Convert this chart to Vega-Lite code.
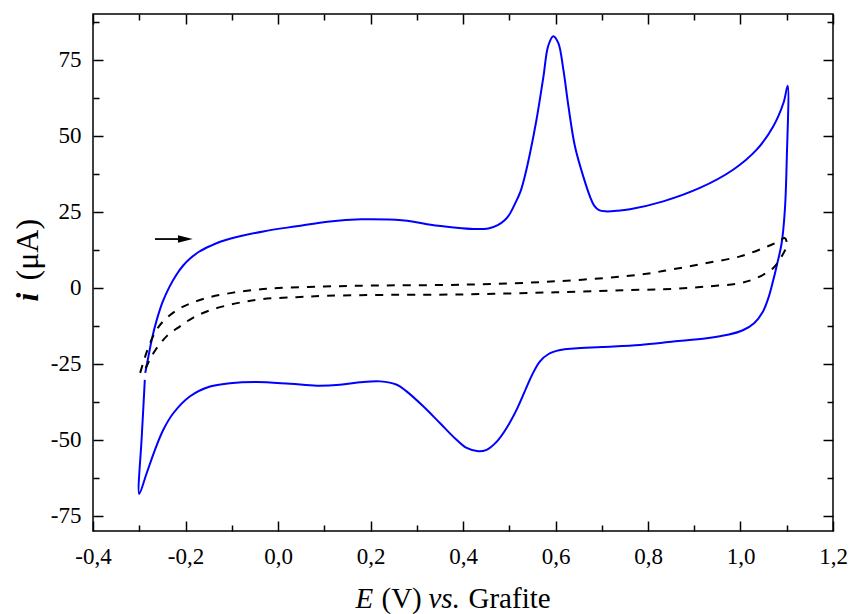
{
  "$schema": "https://vega.github.io/schema/vega-lite/v6.json",
  "width": 740,
  "height": 517,
  "autosize": "none",
  "padding": {"left": 93, "top": 14, "right": 18, "bottom": 83},
  "background": "white",
  "config": {
    "view": {"stroke": "black", "strokeWidth": 1.5},
    "axis": {
      "grid": false, "domain": false, "labelFont": "Liberation Serif", "titleFont": "Liberation Serif",
      "labelColor": "black", "titleColor": "black", "tickColor": "black", "tickWidth": 1.5,
      "labelFlush": false, "labelOverlap": false, "labelBound": false, "titleFontWeight": "normal"
    }
  },
  "datasets": {
    "cv": [
      {"o":1,"E":-0.287,"i":-28.0},{"o":2,"E":-0.280,"i":-22.5},{"o":3,"E":-0.273,"i":-17.1},{"o":4,"E":-0.262,"i":-10.5},
      {"o":5,"E":-0.249,"i":-4.5},{"o":6,"E":-0.235,"i":0.2},{"o":7,"E":-0.220,"i":4.2},{"o":8,"E":-0.205,"i":7.3},
      {"o":9,"E":-0.190,"i":9.6},{"o":10,"E":-0.170,"i":11.9},{"o":11,"E":-0.147,"i":13.7},{"o":12,"E":-0.125,"i":15.1},
      {"o":13,"E":-0.104,"i":16.1},{"o":14,"E":-0.032,"i":18.5},
      {"o":15,"E":0.040,"i":20.2},{"o":16,"E":0.112,"i":21.8},{"o":17,"E":0.180,"i":22.5},{"o":18,"E":0.240,"i":22.4},
      {"o":19,"E":0.290,"i":21.8},{"o":20,"E":0.330,"i":20.7},{"o":21,"E":0.380,"i":19.8},{"o":22,"E":0.422,"i":19.3},
      {"o":23,"E":0.455,"i":19.5},{"o":24,"E":0.475,"i":20.6},{"o":25,"E":0.490,"i":22.2},{"o":26,"E":0.500,"i":24.0},
      {"o":27,"E":0.512,"i":27.5},{"o":28,"E":0.524,"i":31.5},{"o":29,"E":0.535,"i":37.5},{"o":30,"E":0.545,"i":44.3},
      {"o":31,"E":0.559,"i":55.3},{"o":32,"E":0.574,"i":69.5},{"o":33,"E":0.584,"i":79.4},{"o":34,"E":0.595,"i":82.7},
      {"o":35,"E":0.606,"i":80.5},{"o":36,"E":0.617,"i":71.7},{"o":37,"E":0.628,"i":59.6},{"o":38,"E":0.642,"i":46.5},
      {"o":39,"E":0.660,"i":36.6},{"o":40,"E":0.675,"i":29.8},{"o":41,"E":0.684,"i":26.9},{"o":42,"E":0.694,"i":25.5},
      {"o":43,"E":0.708,"i":25.1},{"o":44,"E":0.735,"i":25.3},{"o":45,"E":0.761,"i":25.8},
      {"o":46,"E":0.833,"i":28.4},{"o":47,"E":0.912,"i":32.8},{"o":48,"E":0.984,"i":38.8},{"o":49,"E":1.035,"i":45.4},
      {"o":50,"E":1.071,"i":53.1},{"o":51,"E":1.093,"i":60.8},{"o":52,"E":1.102,"i":66.4},{"o":53,"E":1.100,"i":42.1},
      {"o":54,"E":1.096,"i":25.7},{"o":55,"E":1.089,"i":14.7},{"o":56,"E":1.078,"i":7.0},{"o":57,"E":1.070,"i":2.0},
      {"o":58,"E":1.060,"i":-3.5},{"o":59,"E":1.048,"i":-8.0},{"o":60,"E":1.030,"i":-11.6},{"o":61,"E":1.005,"i":-14.0},
      {"o":62,"E":0.975,"i":-15.4},{"o":63,"E":0.927,"i":-16.6},
      {"o":64,"E":0.855,"i":-17.7},{"o":65,"E":0.783,"i":-18.8},{"o":66,"E":0.700,"i":-19.5},{"o":67,"E":0.640,"i":-20.0},
      {"o":68,"E":0.610,"i":-20.5},{"o":69,"E":0.585,"i":-21.8},{"o":70,"E":0.566,"i":-24.3},{"o":71,"E":0.550,"i":-28.5},
      {"o":72,"E":0.538,"i":-32.5},
      {"o":73,"E":0.516,"i":-40.1},{"o":74,"E":0.494,"i":-46.2},{"o":75,"E":0.473,"i":-50.6},{"o":76,"E":0.451,"i":-53.3},
      {"o":77,"E":0.433,"i":-53.8},{"o":78,"E":0.408,"i":-52.7},{"o":79,"E":0.386,"i":-50.0},{"o":80,"E":0.350,"i":-44.5},
      {"o":81,"E":0.314,"i":-39.0},{"o":82,"E":0.278,"i":-34.1},{"o":83,"E":0.257,"i":-31.9},{"o":84,"E":0.221,"i":-30.8},
      {"o":85,"E":0.177,"i":-31.1},{"o":86,"E":0.134,"i":-31.9},{"o":87,"E":0.084,"i":-32.2},{"o":88,"E":0.026,"i":-31.6},
      {"o":89,"E":-0.046,"i":-31.0},{"o":90,"E":-0.104,"i":-31.4},{"o":91,"E":-0.147,"i":-32.5},{"o":92,"E":-0.190,"i":-35.7},
      {"o":93,"E":-0.226,"i":-41.2},{"o":94,"E":-0.248,"i":-46.7},{"o":95,"E":-0.266,"i":-53.3},{"o":96,"E":-0.284,"i":-61.0},
      {"o":97,"E":-0.300,"i":-67.8},{"o":98,"E":-0.295,"i":-50.0},{"o":99,"E":-0.291,"i":-39.0},{"o":100,"E":-0.288,"i":-30.3}
    ],
    "blank": [
      {"o":1,"E":-0.298,"i":-28.0},{"o":2,"E":-0.290,"i":-24.0},{"o":3,"E":-0.280,"i":-19.5},{"o":4,"E":-0.265,"i":-14.5},
      {"o":5,"E":-0.248,"i":-11.0},{"o":6,"E":-0.220,"i":-7.5},{"o":7,"E":-0.190,"i":-5.2},{"o":8,"E":-0.150,"i":-3.2},
      {"o":9,"E":-0.100,"i":-1.7},{"o":10,"E":-0.050,"i":-0.7},{"o":11,"E":0.000,"i":-0.1},{"o":12,"E":0.100,"i":0.4},
      {"o":13,"E":0.200,"i":0.7},{"o":14,"E":0.400,"i":1.0},{"o":15,"E":0.600,"i":2.1},{"o":16,"E":0.783,"i":4.3},
      {"o":17,"E":0.855,"i":6.1},{"o":18,"E":0.927,"i":8.1},{"o":19,"E":0.999,"i":10.3},{"o":20,"E":1.049,"i":13.0},
      {"o":21,"E":1.078,"i":14.9},{"o":22,"E":1.096,"i":16.3},{"o":23,"E":1.100,"i":14.1},{"o":24,"E":1.089,"i":10.3},
      {"o":25,"E":1.071,"i":6.5},{"o":26,"E":1.035,"i":3.2},{"o":27,"E":0.999,"i":1.5},{"o":28,"E":0.927,"i":0.4},
      {"o":29,"E":0.855,"i":-0.4},{"o":30,"E":0.783,"i":-0.7},{"o":31,"E":0.600,"i":-1.5},{"o":32,"E":0.400,"i":-2.2},
      {"o":33,"E":0.200,"i":-2.4},{"o":34,"E":0.100,"i":-2.7},{"o":35,"E":0.040,"i":-3.1},{"o":36,"E":-0.032,"i":-3.7},
      {"o":37,"E":-0.068,"i":-4.5},{"o":38,"E":-0.104,"i":-5.6},{"o":39,"E":-0.147,"i":-7.4},{"o":40,"E":-0.183,"i":-9.8},
      {"o":41,"E":-0.212,"i":-12.7},{"o":42,"E":-0.241,"i":-16.0},{"o":43,"E":-0.265,"i":-20.5},{"o":44,"E":-0.280,"i":-24.5},
      {"o":45,"E":-0.292,"i":-28.5}
    ],
    "arrow": [{"x0": -0.266, "x1": -0.212, "xh": -0.2004, "y": 16.0}]
  },
  "resolve": {"axis": {"x": "independent", "y": "independent"}},
  "layer": [
    {
      "data": {"name": "cv"},
      "mark": {"type": "line", "color": "#0000ff", "strokeWidth": 2, "interpolate": "catmull-rom"},
      "encoding": {
        "order": {"field": "o", "type": "quantitative"},
        "x": {"field": "E", "type": "quantitative",
          "scale": {"domain": [-0.4, 1.2], "nice": false, "zero": false},
          "axis": {"orient": "bottom", "values": [-0.4,-0.2,0,0.2,0.4,0.6,0.8,1.0,1.2], "ticks": false, "tickSize": 0,
            "labelExpr": "(datum.value < -0.001 ? '-' : '') + replace(format(abs(datum.value), '.1f'), '.', ',')",
            "labelFontSize": 23, "labelBaseline": "alphabetic", "labelPadding": 32,
            "title": "E", "titleFontSize": 29, "titleFontStyle": "italic", "titleX": 262, "titleY": 76,
            "titleAlign": "left", "titleBaseline": "alphabetic", "titleAngle": 0}},
        "y": {"field": "i", "type": "quantitative",
          "scale": {"domain": [-80, 90], "nice": false, "zero": false},
          "axis": {"orient": "left", "values": [-75,-50,-25,0,25,50,75], "ticks": false, "tickSize": 0,
            "labelExpr": "(datum.value < 0 ? '-' : '') + format(abs(datum.value), 'd')",
            "labelFontSize": 23, "labelBaseline": "middle", "labelAlign": "right", "labelPadding": 12,
            "title": "i", "titleFontSize": 32, "titleFontStyle": "italic", "titleFontWeight": "bold",
            "titleX": -56, "titleY": 287, "titleAlign": "left", "titleBaseline": "alphabetic", "titleAngle": 270}}
      }
    },
    {
      "data": {"name": "blank"},
      "mark": {"type": "line", "color": "black", "strokeWidth": 2, "strokeDash": [8, 8], "interpolate": "catmull-rom"},
      "encoding": {
        "order": {"field": "o", "type": "quantitative"},
        "x": {"field": "E", "type": "quantitative",
          "scale": {"domain": [-0.4, 1.2], "nice": false, "zero": false},
          "axis": {"orient": "bottom", "values": [-0.4,-0.2,0,0.2,0.4,0.6,0.8,1.0,1.2], "tickSize": -10, "labels": false,
            "title": "(V)", "titleFontSize": 29, "titleX": 288, "titleY": 76,
            "titleAlign": "left", "titleBaseline": "alphabetic", "titleAngle": 0}},
        "y": {"field": "i", "type": "quantitative",
          "scale": {"domain": [-80, 90], "nice": false, "zero": false},
          "axis": {"orient": "left", "values": [-75,-50,-25,0,25,50,75], "tickSize": -10, "labels": false,
            "title": "(μA)", "titleFontSize": 32,
            "titleX": -56, "titleY": 266, "titleAlign": "left", "titleBaseline": "alphabetic", "titleAngle": 270}}
      }
    },
    {
      "data": {"name": "arrow"},
      "mark": {"type": "rule", "color": "black", "strokeWidth": 1.8},
      "encoding": {
        "x": {"field": "x0", "type": "quantitative",
          "scale": {"domain": [-0.4, 1.2], "nice": false, "zero": false},
          "axis": {"orient": "bottom", "values": [-0.3,-0.1,0.1,0.3,0.5,0.7,0.9,1.1], "tickSize": -6, "labels": false,
            "title": "vs.", "titleFontSize": 29, "titleFontStyle": "italic", "titleX": 335, "titleY": 76,
            "titleAlign": "left", "titleBaseline": "alphabetic", "titleAngle": 0}},
        "x2": {"field": "x1"},
        "y": {"field": "y", "type": "quantitative",
          "scale": {"domain": [-80, 90], "nice": false, "zero": false},
          "axis": {"orient": "left", "values": [-62.5,-37.5,-12.5,12.5,37.5,62.5,87.5], "tickSize": -6, "labels": false, "title": null}}
      }
    },
    {
      "data": {"name": "arrow"},
      "mark": {"type": "point", "shape": "M-1,-0.5L1,0L-1,0.5Z", "filled": true, "color": "black", "size": 216, "opacity": 1},
      "encoding": {
        "x": {"field": "xh", "type": "quantitative",
          "scale": {"domain": [-0.4, 1.2], "nice": false, "zero": false},
          "axis": {"orient": "top", "values": [-0.4,-0.2,0,0.2,0.4,0.6,0.8,1.0,1.2], "tickSize": -10, "labels": false,
            "title": "Grafite", "titleFontSize": 29, "titleX": 375, "titleY": 593,
            "titleAlign": "left", "titleBaseline": "alphabetic", "titleAngle": 0}},
        "y": {"field": "y", "type": "quantitative",
          "scale": {"domain": [-80, 90], "nice": false, "zero": false},
          "axis": {"orient": "right", "values": [-75,-50,-25,0,25,50,75], "tickSize": -10, "labels": false, "title": null}}
      }
    },
    {
      "data": {"name": "arrow"},
      "mark": {"type": "point", "opacity": 0},
      "encoding": {
        "x": {"field": "xh", "type": "quantitative",
          "scale": {"domain": [-0.4, 1.2], "nice": false, "zero": false},
          "axis": {"orient": "top", "values": [-0.3,-0.1,0.1,0.3,0.5,0.7,0.9,1.1], "tickSize": -6, "labels": false, "title": null}},
        "y": {"field": "y", "type": "quantitative",
          "scale": {"domain": [-80, 90], "nice": false, "zero": false},
          "axis": {"orient": "right", "values": [-62.5,-37.5,-12.5,12.5,37.5,62.5,87.5], "tickSize": -6, "labels": false, "title": null}}
      }
    }
  ]
}
